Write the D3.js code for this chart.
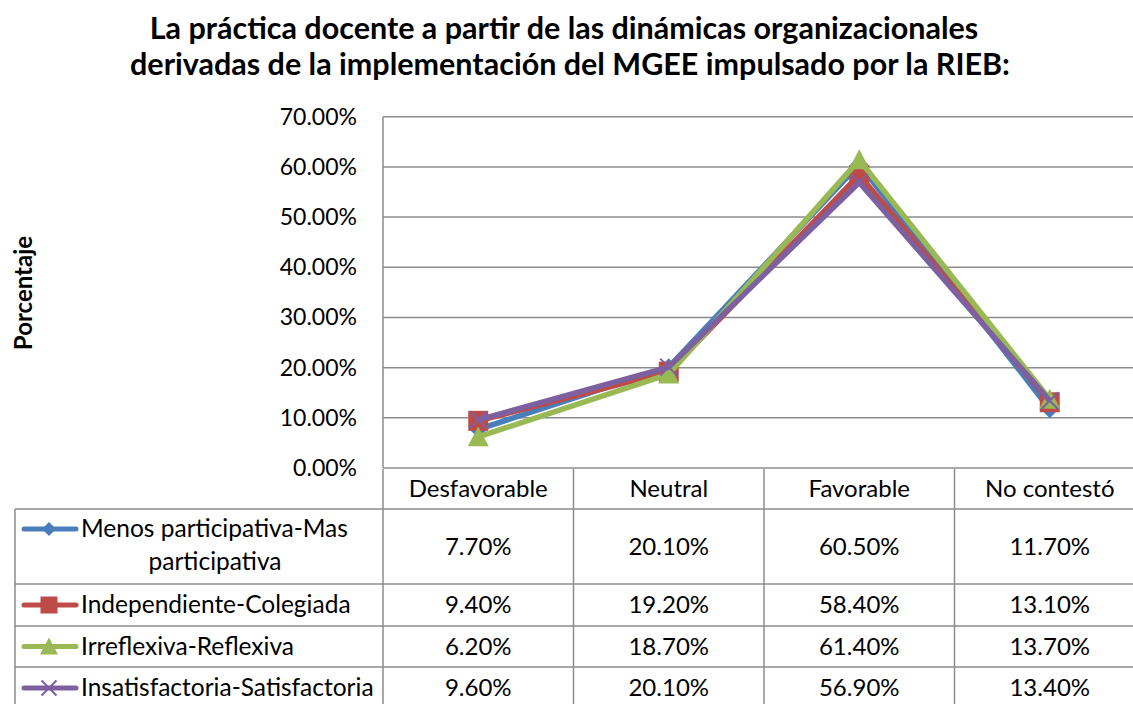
<!DOCTYPE html>
<html>
<head>
<meta charset="utf-8">
<script src="https://cdn.jsdelivr.net/npm/d3@7"></script>
<style>
  body { margin: 0; background: #fff; }
  text { font-family: Lato, "Open Sans", sans-serif; fill: #000; }
</style>
</head>
<body>
<svg id="chart" width="1133" height="704"></svg>
<script>
// data
const categories = ["Desfavorable", "Neutral", "Favorable", "No contestó"];
const seriesNames = ["Menos participativa-Mas participativa", "Independiente-Colegiada", "Irreflexiva-Reflexiva", "Insatisfactoria-Satisfactoria"];
const menosMas = [7.7, 20.1, 60.5, 11.7];
const indepColeg = [9.4, 19.2, 58.4, 13.1];
const irreflRefl = [6.2, 18.7, 61.4, 13.7];
const insatSatisf = [9.6, 20.1, 56.9, 13.4];
const yTicks = [0, 10, 20, 30, 40, 50, 60, 70];

const seriesValues = [menosMas, indepColeg, irreflRefl, insatSatisf];
const colors = ["#4A7EBB", "#BE4B48", "#98B954", "#7D60A0"];
const markers = ["diamond", "square", "triangle", "cross"];

const svg = d3.select("#chart");

const plotLeft = 383, colW = 190.5;
const x = d3.scaleBand().domain(categories).range([plotLeft, plotLeft + colW * 4]);
const y = d3.scaleLinear().domain([0, 70]).range([468, 116.7]);
const fs = 24;

// title
svg.append("text").attr("x", 564).attr("y", 39).attr("text-anchor", "middle")
  .attr("font-size", 30.5).attr("font-weight", "bold")
  .text("La práctica docente a partir de las dinámicas organizacionales");
svg.append("text").attr("x", 570).attr("y", 75).attr("text-anchor", "middle")
  .attr("font-size", 30.5).attr("font-weight", "bold")
  .text("derivadas de la implementación del MGEE impulsado por la RIEB:");

// y axis title
svg.append("text").attr("transform", "translate(32, 293) rotate(-90)")
  .attr("text-anchor", "middle").attr("font-size", 24).attr("font-weight", "bold")
  .text("Porcentaje");

const gridColor = "#8c8c8c";

// gridlines
svg.append("g").selectAll("line").data(yTicks).join("line")
  .attr("x1", plotLeft).attr("x2", plotLeft + colW * 4)
  .attr("y1", d => y(d)).attr("y2", d => y(d))
  .attr("stroke", gridColor).attr("stroke-width", 1.5);
svg.append("line").attr("x1", plotLeft).attr("x2", plotLeft)
  .attr("y1", y(70)).attr("y2", y(0)).attr("stroke", gridColor).attr("stroke-width", 1.5);

// y tick labels
svg.append("g").selectAll("text").data(yTicks).join("text")
  .attr("x", 357).attr("y", d => y(d) + 8).attr("text-anchor", "end")
  .attr("font-size", 23).text(d => d.toFixed(2) + "%");

// lines
const line = d3.line().x((d, i) => x(categories[i]) + x.bandwidth() / 2).y(d => y(d));

function drawMarker(g, type, cx, cy, color, legend) {
  if (type === "diamond") {
    const s = legend ? 7 : 9;
    g.append("path").attr("d", `M${cx},${cy - s}L${cx + s},${cy}L${cx},${cy + s}L${cx - s},${cy}Z`).attr("fill", color);
  } else if (type === "square") {
    const s = legend ? 8.5 : 10;
    g.append("rect").attr("x", cx - s).attr("y", cy - s).attr("width", 2 * s).attr("height", 2 * s).attr("fill", color);
  } else if (type === "triangle") {
    const s = legend ? 9 : 10.5;
    g.append("path").attr("d", `M${cx},${cy - s}L${cx + s},${cy + s * 0.9}L${cx - s},${cy + s * 0.9}Z`).attr("fill", color);
  } else {
    const s = legend ? 7.5 : 8.5;
    g.append("path").attr("d", `M${cx - s},${cy - s}L${cx + s},${cy + s}M${cx - s},${cy + s}L${cx + s},${cy - s}`)
      .attr("stroke", color).attr("stroke-width", 2);
  }
}

seriesValues.forEach((vals, k) => {
  const g = svg.append("g");
  g.append("path").datum(vals).attr("d", line).attr("fill", "none")
    .attr("stroke", colors[k]).attr("stroke-width", 5.5).attr("stroke-linejoin", "round");
  vals.forEach((v, i) => drawMarker(g, markers[k], x(categories[i]) + x.bandwidth() / 2, y(v), colors[k], false));
});

// data table
const rowTops = [469, 509, 584, 626, 667, 709];
const tableLeft = 15;
const tg = svg.append("g");
// header row
categories.forEach(c => {
  tg.append("text").attr("x", x(c) + x.bandwidth() / 2).attr("y", (rowTops[0] + rowTops[1]) / 2 + 8)
    .attr("text-anchor", "middle").attr("font-size", fs).text(c);
});
// horizontal borders
rowTops.slice(1).forEach(t => {
  tg.append("line").attr("x1", tableLeft).attr("x2", 1133).attr("y1", t).attr("y2", t)
    .attr("stroke", gridColor).attr("stroke-width", 1.5);
});
// vertical borders
tg.append("line").attr("x1", tableLeft).attr("x2", tableLeft).attr("y1", rowTops[1]).attr("y2", 709)
  .attr("stroke", gridColor).attr("stroke-width", 1.5);
categories.concat(["end"]).forEach((c, i) => {
  const xx = plotLeft + colW * i;
  tg.append("line").attr("x1", xx).attr("x2", xx).attr("y1", rowTops[0]).attr("y2", 709)
    .attr("stroke", gridColor).attr("stroke-width", 1.5);
});
// values and legend keys
seriesValues.forEach((vals, k) => {
  const top = rowTops[k + 1], bot = rowTops[k + 2];
  const mid = (top + bot) / 2;
  vals.forEach((v, i) => {
    tg.append("text").attr("x", x(categories[i]) + x.bandwidth() / 2).attr("y", mid + 8)
      .attr("text-anchor", "middle").attr("font-size", fs).text(v.toFixed(2) + "%");
  });
  const keyY = k === 0 ? 529 : mid;
  tg.append("line").attr("x1", 24).attr("x2", 76).attr("y1", keyY).attr("y2", keyY)
    .attr("stroke", colors[k]).attr("stroke-width", 5).attr("stroke-linecap", "round");
  drawMarker(tg, markers[k], 49, keyY, colors[k], true);
  if (k === 0) {
    tg.append("text").attr("x", 81).attr("y", 537).attr("font-size", 24.5).text("Menos participativa-Mas");
    tg.append("text").attr("x", 215).attr("y", 570).attr("text-anchor", "middle").attr("font-size", 24.5).text("participativa");
  } else {
    tg.append("text").attr("x", 81).attr("y", mid + 8).attr("font-size", 24.5).text(seriesNames[k]);
  }
});
</script>
</body>
</html>
